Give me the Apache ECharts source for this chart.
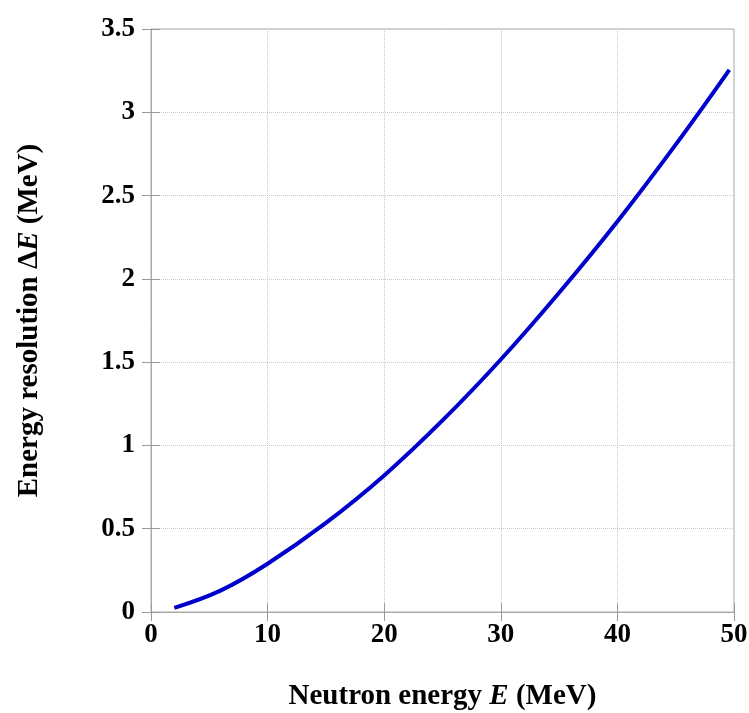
<!DOCTYPE html>
<html>
<head>
<meta charset="utf-8">
<script src="https://cdn.jsdelivr.net/npm/echarts@6/dist/echarts.min.js"></script>
<style>
html,body{margin:0;padding:0;background:#fff;}
#chart{width:749px;height:713px;}
</style>
</head>
<body>
<div id="chart"></div>
<script>
// Neutron energy E (MeV)
var energy = [2, 6, 10, 15, 20, 25, 30, 35, 40, 45, 49.6];
// Energy resolution ΔE (MeV)
var resolution = [0.025, 0.13, 0.29, 0.535, 0.82, 1.15, 1.516, 1.917, 2.345, 2.806, 3.255];
var xTicks = [0, 10, 20, 30, 40, 50];
var yTicks = [0, 0.5, 1, 1.5, 2, 2.5, 3, 3.5];

var font = '"Liberation Serif", "Times New Roman", serif';
var pairs = energy.map(function (e, i) { return [e, resolution[i]]; });

var chart = echarts.init(document.getElementById('chart'));
var labelStyle = { fontFamily: font, fontWeight: 'bold', fontSize: 27, color: '#000' };
var nameStyle = {
  fontFamily: font, fontWeight: 'bold', fontSize: 29, color: '#000',
  rich: { i: { fontFamily: font, fontWeight: 'bold', fontStyle: 'italic', fontSize: 29, color: '#000' } }
};
var split = { show: true, lineStyle: { color: '#c8c8c8', type: 'dotted', width: 1 } };
var tick = { show: true, inside: true, length: 9, lineStyle: { color: '#999' } };
chart.setOption({
  backgroundColor: '#fff',
  animation: false,
  grid: { left: 151, top: 29, width: 583, height: 583, show: true, borderColor: '#aaa', borderWidth: 1,
          containLabel: false, outerBoundsMode: 'none' },
  xAxis: [{
    type: 'value', min: xTicks[0], max: xTicks[xTicks.length - 1], interval: 10,
    name: 'Neutron energy {i|E} (MeV)', nameLocation: 'middle', nameGap: 70, nameTextStyle: nameStyle,
    axisLine: { show: true, lineStyle: { color: '#aaa' } },
    axisTick: tick, splitLine: split,
    axisLabel: Object.assign({ margin: 10 }, labelStyle)
  }, {
    type: 'value', position: 'top', min: 0, max: 50, interval: 10,
    axisLine: { show: false }, axisTick: tick, axisLabel: { show: false }, splitLine: { show: false }
  }],
  yAxis: [{
    type: 'value', min: yTicks[0], max: yTicks[yTicks.length - 1], interval: 0.5,
    name: 'Energy resolution Δ{i|E} (MeV)', nameLocation: 'middle', nameGap: 107, nameTextStyle: nameStyle,
    axisLine: { show: true, lineStyle: { color: '#aaa' } },
    axisTick: tick, splitLine: split,
    axisLabel: Object.assign({ margin: 16 }, labelStyle)
  }, {
    type: 'value', position: 'right', min: 0, max: 3.5, interval: 0.5,
    axisLine: { show: false }, axisTick: tick, axisLabel: { show: false }, splitLine: { show: false }
  }],
  series: [{
    type: 'line', data: pairs, smooth: 0.4, showSymbol: false,
    lineStyle: { color: '#0000cc', width: 4 }
  }]
});
</script>
</body>
</html>
